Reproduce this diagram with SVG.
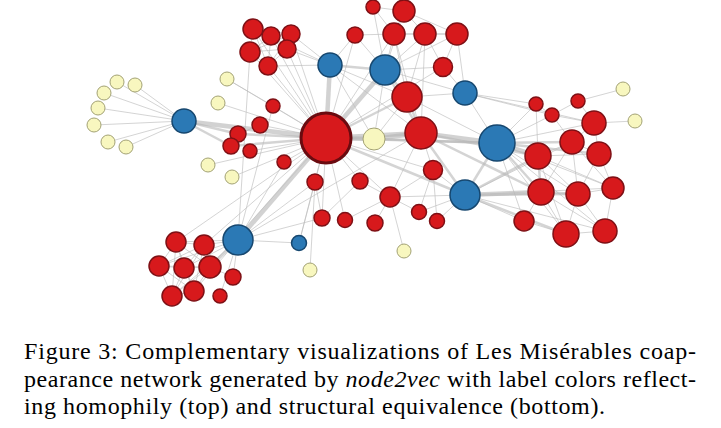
<svg xmlns="http://www.w3.org/2000/svg" width="721" height="428" viewBox="0 0 721 428">
<style>
.e1{stroke:#bdbdbd;stroke-width:1;stroke-opacity:.65;fill:none}
.e2{stroke:#b8b8b8;stroke-width:2.5;stroke-opacity:.6;fill:none}
.e3{stroke:#b4b4b4;stroke-width:4.5;stroke-opacity:.6;fill:none}
.r{fill:#d7191c;stroke:#7e1015;stroke-width:1.5}
.b{fill:#2b79b5;stroke:#16476f;stroke-width:1.5}
.y{fill:#f8f7bf;stroke:#a3a275;stroke-width:1}
</style>
<rect width="721" height="428" fill="#fff"/>
<g id="edges">
<path class="e1" d="M184 121L117 82"/><path class="e1" d="M184 121L135 85"/><path class="e1" d="M184 121L104 93"/><path class="e1" d="M184 121L98 108"/><path class="e1" d="M184 121L94 125"/><path class="e1" d="M184 121L108 142"/><path class="e1" d="M184 121L126 147"/>
<path class="e1" d="M227 79L326 138"/><path class="e1" d="M218 103L326 138"/><path class="e1" d="M208 165L326 138"/><path class="e1" d="M232 177L326 138"/>
<path class="e1" d="M253 29L271 36"/><path class="e1" d="M253 29L291 34"/><path class="e1" d="M253 29L287 49"/><path class="e1" d="M253 29L250 52"/><path class="e1" d="M253 29L268 66"/><path class="e1" d="M271 36L291 34"/><path class="e1" d="M271 36L287 49"/><path class="e1" d="M271 36L250 52"/><path class="e1" d="M271 36L268 66"/><path class="e1" d="M291 34L287 49"/><path class="e1" d="M291 34L250 52"/><path class="e1" d="M291 34L268 66"/><path class="e1" d="M287 49L250 52"/><path class="e1" d="M287 49L268 66"/><path class="e1" d="M250 52L268 66"/>
<path class="e1" d="M253 29L326 138"/><path class="e1" d="M271 36L326 138"/><path class="e1" d="M291 34L326 138"/><path class="e1" d="M287 49L326 138"/><path class="e1" d="M250 52L326 138"/><path class="e1" d="M268 66L326 138"/>
<path class="e1" d="M253 29L330 65"/><path class="e1" d="M291 34L330 65"/><path class="e1" d="M287 49L330 65"/><path class="e1" d="M268 66L330 65"/><path class="e1" d="M250 52L238 240"/>
<path class="e1" d="M273 106L326 138"/><path class="e1" d="M260 125L326 138"/><path class="e1" d="M250 151L326 138"/><path class="e1" d="M284 162L326 138"/><path class="e1" d="M260 125L238 134"/><path class="e1" d="M227 79L273 106"/>
<path class="e2" d="M238 134L326 138"/><path class="e2" d="M231 146L326 138"/><path class="e2" d="M238 134L231 146"/><path class="e2" d="M184 121L238 134"/><path class="e2" d="M184 121L231 146"/><path class="e3" d="M184 121L326 138"/>
<path class="e3" d="M326 138L330 65"/><path class="e3" d="M326 138L385 70"/><path class="e2" d="M326 138L407 97"/><path class="e3" d="M326 138L421 133"/><path class="e3" d="M326 138L374 139"/><path class="e1" d="M326 138L315 182"/><path class="e1" d="M326 138L360 181"/><path class="e3" d="M326 138L238 240"/><path class="e1" d="M326 138L299 243"/><path class="e1" d="M326 138L322 218"/><path class="e1" d="M326 138L345 220"/><path class="e2" d="M326 138L497 143"/><path class="e2" d="M326 138L465 195"/><path class="e1" d="M326 138L355 35"/><path class="e1" d="M326 138L394 34"/><path class="e1" d="M326 138L443 67"/><path class="e1" d="M326 138L390 197"/><path class="e1" d="M326 138L204 245"/><path class="e1" d="M326 138L210 267"/><path class="e1" d="M326 138L176 242"/><path class="e1" d="M326 138L433 170"/>
<path class="e2" d="M330 65L385 70"/><path class="e1" d="M330 65L407 97"/><path class="e1" d="M330 65L355 35"/><path class="e1" d="M330 65L421 133"/><path class="e1" d="M330 65L374 139"/>
<path class="e1" d="M385 70L394 34"/><path class="e1" d="M385 70L425 34"/><path class="e1" d="M385 70L457 34"/><path class="e1" d="M385 70L355 35"/><path class="e1" d="M385 70L404 11"/><path class="e2" d="M385 70L407 97"/><path class="e1" d="M385 70L443 67"/><path class="e1" d="M385 70L465 93"/><path class="e2" d="M385 70L421 133"/><path class="e1" d="M385 70L374 139"/><path class="e1" d="M385 70L373 7"/>
<path class="e1" d="M373 7L404 11"/><path class="e1" d="M404 11L394 34"/><path class="e1" d="M404 11L425 34"/><path class="e1" d="M394 34L425 34"/><path class="e1" d="M425 34L457 34"/><path class="e1" d="M394 34L457 34"/><path class="e1" d="M394 34L407 97"/><path class="e1" d="M425 34L407 97"/><path class="e1" d="M457 34L443 67"/><path class="e1" d="M457 34L465 93"/><path class="e1" d="M355 35L394 34"/><path class="e1" d="M373 7L394 34"/><path class="e1" d="M404 11L457 34"/><path class="e1" d="M425 34L443 67"/><path class="e1" d="M394 34L421 133"/><path class="e1" d="M425 34L421 133"/>
<path class="e2" d="M407 97L421 133"/><path class="e1" d="M407 97L374 139"/><path class="e1" d="M407 97L497 143"/><path class="e1" d="M407 97L465 93"/>
<path class="e3" d="M421 133L374 139"/><path class="e3" d="M421 133L497 143"/><path class="e1" d="M421 133L433 170"/><path class="e1" d="M421 133L390 197"/><path class="e2" d="M421 133L465 195"/><path class="e2" d="M421 133L538 156"/><path class="e2" d="M421 133L541 192"/><path class="e2" d="M374 139L497 143"/>
<path class="e1" d="M465 93L443 67"/><path class="e1" d="M465 93L497 143"/><path class="e1" d="M465 93L536 104"/><path class="e1" d="M465 93L594 123"/><path class="e1" d="M465 93L552 115"/>
<path class="e1" d="M497 143L536 104"/><path class="e1" d="M497 143L552 115"/><path class="e1" d="M497 143L594 123"/><path class="e2" d="M497 143L572 142"/><path class="e3" d="M497 143L538 156"/><path class="e2" d="M497 143L599 154"/><path class="e2" d="M497 143L541 192"/><path class="e1" d="M497 143L578 194"/><path class="e1" d="M497 143L613 188"/><path class="e1" d="M497 143L524 221"/><path class="e1" d="M497 143L566 234"/><path class="e1" d="M497 143L605 231"/><path class="e2" d="M497 143L465 195"/>
<path class="e2" d="M465 195L538 156"/><path class="e3" d="M465 195L541 192"/><path class="e2" d="M465 195L578 194"/><path class="e1" d="M465 195L524 221"/><path class="e2" d="M465 195L566 234"/><path class="e1" d="M465 195L605 231"/><path class="e1" d="M465 195L390 197"/><path class="e1" d="M465 195L433 170"/><path class="e1" d="M465 195L419 212"/><path class="e1" d="M465 195L437 221"/><path class="e1" d="M465 195L572 142"/><path class="e1" d="M465 195L613 188"/>
<path class="e1" d="M594 123L572 142"/><path class="e1" d="M594 123L599 154"/><path class="e1" d="M572 142L538 156"/><path class="e1" d="M572 142L599 154"/><path class="e1" d="M572 142L541 192"/><path class="e1" d="M572 142L578 194"/><path class="e2" d="M538 156L541 192"/><path class="e1" d="M538 156L578 194"/><path class="e1" d="M538 156L599 154"/><path class="e1" d="M599 154L578 194"/><path class="e1" d="M599 154L613 188"/><path class="e2" d="M541 192L578 194"/><path class="e1" d="M541 192L524 221"/><path class="e1" d="M541 192L566 234"/><path class="e1" d="M578 194L613 188"/><path class="e1" d="M578 194L566 234"/><path class="e1" d="M578 194L605 231"/><path class="e1" d="M613 188L605 231"/><path class="e1" d="M566 234L605 231"/><path class="e1" d="M524 221L566 234"/><path class="e1" d="M538 156L566 234"/><path class="e1" d="M541 192L605 231"/><path class="e1" d="M572 142L613 188"/><path class="e1" d="M538 156L613 188"/><path class="e1" d="M552 115L594 123"/><path class="e1" d="M536 104L552 115"/><path class="e1" d="M578 101L594 123"/><path class="e1" d="M578 101L552 115"/><path class="e1" d="M552 115L572 142"/><path class="e1" d="M536 104L538 156"/>
<path class="e1" d="M623 89L578 101"/><path class="e1" d="M635 121L594 123"/>
<path class="e1" d="M238 240L176 242"/><path class="e1" d="M238 240L204 245"/><path class="e1" d="M238 240L159 266"/><path class="e1" d="M238 240L184 268"/><path class="e2" d="M238 240L210 267"/><path class="e1" d="M238 240L172 296"/><path class="e1" d="M238 240L194 291"/>
<path class="e1" d="M176 242L204 245"/><path class="e1" d="M176 242L159 266"/><path class="e1" d="M176 242L184 268"/><path class="e1" d="M176 242L210 267"/><path class="e1" d="M176 242L172 296"/><path class="e1" d="M176 242L194 291"/>
<path class="e1" d="M204 245L159 266"/><path class="e1" d="M204 245L184 268"/><path class="e1" d="M204 245L210 267"/><path class="e1" d="M204 245L172 296"/><path class="e1" d="M204 245L194 291"/>
<path class="e1" d="M159 266L184 268"/><path class="e1" d="M159 266L210 267"/><path class="e1" d="M159 266L172 296"/><path class="e1" d="M159 266L194 291"/>
<path class="e1" d="M184 268L210 267"/><path class="e1" d="M184 268L172 296"/><path class="e1" d="M184 268L194 291"/><path class="e1" d="M210 267L172 296"/><path class="e1" d="M210 267L194 291"/><path class="e1" d="M172 296L194 291"/>
<path class="e1" d="M238 240L233 277"/><path class="e1" d="M238 240L220 296"/><path class="e1" d="M233 277L210 267"/><path class="e1" d="M238 240L299 243"/><path class="e1" d="M238 240L315 182"/><path class="e1" d="M238 240L284 162"/><path class="e1" d="M238 240L322 218"/><path class="e1" d="M238 240L421 133"/><path class="e1" d="M238 240L273 106"/>
<path class="e1" d="M299 243L315 182"/><path class="e1" d="M310 270L315 182"/><path class="e1" d="M404 251L390 197"/>
<path class="e1" d="M390 197L360 181"/><path class="e1" d="M390 197L433 170"/><path class="e1" d="M390 197L345 220"/><path class="e1" d="M390 197L375 223"/><path class="e1" d="M390 197L419 212"/><path class="e1" d="M433 170L437 221"/><path class="e1" d="M433 170L419 212"/><path class="e1" d="M360 181L322 218"/><path class="e1" d="M315 182L322 218"/>
</g>
<g id="n_y1"><circle class="y" cx="117" cy="82" r="7"/></g>
<g id="n_y2"><circle class="y" cx="135" cy="85" r="7"/></g>
<g id="n_y3"><circle class="y" cx="104" cy="93" r="7"/></g>
<g id="n_y4"><circle class="y" cx="98" cy="108" r="7"/></g>
<g id="n_y5"><circle class="y" cx="94" cy="125" r="7"/></g>
<g id="n_y6"><circle class="y" cx="108" cy="142" r="7"/></g>
<g id="n_y7"><circle class="y" cx="126" cy="147" r="7"/></g>
<g id="n_y8"><circle class="y" cx="227" cy="79" r="7"/></g>
<g id="n_y9"><circle class="y" cx="218" cy="103" r="7"/></g>
<g id="n_y10"><circle class="y" cx="208" cy="165" r="7"/></g>
<g id="n_y11"><circle class="y" cx="232" cy="177" r="7"/></g>
<g id="n_y12"><circle class="y" cx="374" cy="139" r="11"/></g>
<g id="n_y13"><circle class="y" cx="404" cy="251" r="7"/></g>
<g id="n_y14"><circle class="y" cx="310" cy="270" r="7"/></g>
<g id="n_y15"><circle class="y" cx="623" cy="89" r="7"/></g>
<g id="n_y16"><circle class="y" cx="635" cy="121" r="7"/></g>
<g id="n_t1"><circle class="r" cx="253" cy="29" r="10"/></g>
<g id="n_t2"><circle class="r" cx="271" cy="36" r="9"/></g>
<g id="n_t3"><circle class="r" cx="291" cy="34" r="9"/></g>
<g id="n_t4"><circle class="r" cx="287" cy="49" r="9"/></g>
<g id="n_t5"><circle class="r" cx="250" cy="52" r="10"/></g>
<g id="n_t6"><circle class="r" cx="268" cy="66" r="9"/></g>
<g id="n_m1"><circle class="r" cx="273" cy="106" r="7"/></g>
<g id="n_m2"><circle class="r" cx="260" cy="125" r="8"/></g>
<g id="n_m3"><circle class="r" cx="238" cy="134" r="8"/></g>
<g id="n_m4"><circle class="r" cx="231" cy="146" r="8"/></g>
<g id="n_m5"><circle class="r" cx="250" cy="151" r="7"/></g>
<g id="n_m6"><circle class="r" cx="284" cy="162" r="7"/></g>
<g id="n_c1"><circle class="r" cx="315" cy="182" r="8"/></g>
<g id="n_c2"><circle class="r" cx="360" cy="181" r="8"/></g>
<g id="n_c3"><circle class="r" cx="390" cy="197" r="10"/></g>
<g id="n_c4"><circle class="r" cx="433" cy="170" r="9.5"/></g>
<g id="n_c5"><circle class="r" cx="322" cy="218" r="8"/></g>
<g id="n_c6"><circle class="r" cx="345" cy="220" r="7.5"/></g>
<g id="n_c7"><circle class="r" cx="375" cy="223" r="8"/></g>
<g id="n_c8"><circle class="r" cx="419" cy="212" r="7.5"/></g>
<g id="n_c9"><circle class="r" cx="437" cy="221" r="7.5"/></g>
<g id="n_g1"><circle class="r" cx="373" cy="7" r="7"/></g>
<g id="n_g2"><circle class="r" cx="404" cy="11" r="11"/></g>
<g id="n_g3"><circle class="r" cx="355" cy="35" r="8"/></g>
<g id="n_g4"><circle class="r" cx="394" cy="34" r="11"/></g>
<g id="n_g5"><circle class="r" cx="425" cy="34" r="11"/></g>
<g id="n_g6"><circle class="r" cx="457" cy="34" r="11"/></g>
<g id="n_g7"><circle class="r" cx="443" cy="67" r="9.5"/></g>
<g id="n_g8"><circle class="r" cx="407" cy="97" r="15"/></g>
<g id="n_g9"><circle class="r" cx="421" cy="133" r="16"/></g>
<g id="n_a1"><circle class="r" cx="536" cy="104" r="7"/></g>
<g id="n_a2"><circle class="r" cx="578" cy="101" r="7"/></g>
<g id="n_a3"><circle class="r" cx="552" cy="115" r="7"/></g>
<g id="n_a4"><circle class="r" cx="594" cy="123" r="12"/></g>
<g id="n_a5"><circle class="r" cx="572" cy="142" r="12"/></g>
<g id="n_a6"><circle class="r" cx="538" cy="156" r="13"/></g>
<g id="n_a7"><circle class="r" cx="599" cy="154" r="12"/></g>
<g id="n_a8"><circle class="r" cx="541" cy="192" r="13"/></g>
<g id="n_a9"><circle class="r" cx="578" cy="194" r="12"/></g>
<g id="n_a10"><circle class="r" cx="613" cy="188" r="11"/></g>
<g id="n_a11"><circle class="r" cx="524" cy="221" r="10"/></g>
<g id="n_a12"><circle class="r" cx="566" cy="234" r="13"/></g>
<g id="n_a13"><circle class="r" cx="605" cy="231" r="12"/></g>
<g id="n_f1"><circle class="r" cx="176" cy="242" r="10"/></g>
<g id="n_f2"><circle class="r" cx="204" cy="245" r="10"/></g>
<g id="n_f3"><circle class="r" cx="159" cy="266" r="10"/></g>
<g id="n_f4"><circle class="r" cx="184" cy="268" r="10"/></g>
<g id="n_f5"><circle class="r" cx="210" cy="267" r="11"/></g>
<g id="n_f6"><circle class="r" cx="233" cy="277" r="8"/></g>
<g id="n_f7"><circle class="r" cx="172" cy="296" r="10"/></g>
<g id="n_f8"><circle class="r" cx="194" cy="291" r="10"/></g>
<g id="n_f9"><circle class="r" cx="220" cy="296" r="7"/></g>
<g id="n_V"><circle class="r" cx="326" cy="138" r="25" style="stroke:#6a0b10;stroke-width:3"/></g>
<g id="n_b1"><circle class="b" cx="184" cy="121" r="12"/></g>
<g id="n_b2"><circle class="b" cx="330" cy="65" r="12"/></g>
<g id="n_b3"><circle class="b" cx="385" cy="70" r="15"/></g>
<g id="n_b4"><circle class="b" cx="465" cy="93" r="12"/></g>
<g id="n_b5"><circle class="b" cx="497" cy="143" r="18"/></g>
<g id="n_b6"><circle class="b" cx="465" cy="195" r="15"/></g>
<g id="n_b7"><circle class="b" cx="238" cy="240" r="15"/></g>
<g id="n_b8"><circle class="b" cx="299" cy="243" r="7.5"/></g>
<g id="caption" font-family="'Liberation Serif', 'DejaVu Serif', serif" font-size="24" fill="#000">
<text x="24" y="359" textLength="672" lengthAdjust="spacing">Figure 3:  Complementary visualizations of Les Misérables coap-</text>
<text x="24" y="386.5" textLength="672" lengthAdjust="spacing">pearance network generated by <tspan font-style="italic">node2vec</tspan> with label colors reflect-</text>
<text x="24" y="414" textLength="581" lengthAdjust="spacing">ing homophily (top) and structural equivalence (bottom).</text>
</g>
</svg>
